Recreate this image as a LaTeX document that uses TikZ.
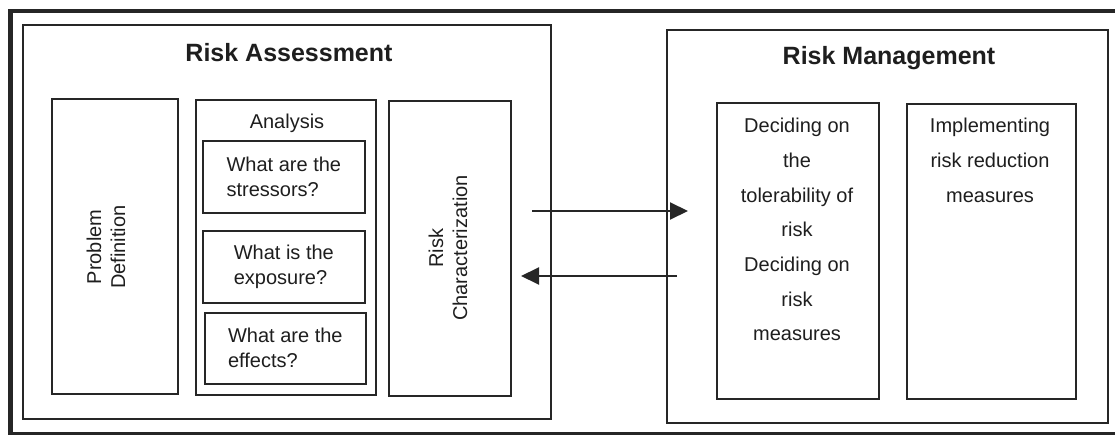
\documentclass[tikz,border=0pt]{standalone}
\usepackage{fontspec}
\setmainfont{Liberation Sans}
\usetikzlibrary{arrows.meta}
\definecolor{linec}{HTML}{262626}
\definecolor{textc}{HTML}{1E1E1E}
\begin{document}
\begin{tikzpicture}[x=1pt,y=-1pt,
  box/.style={draw=linec, line width=1.7pt, inner sep=0pt, anchor=north west},
  title/.style={text=textc, inner sep=0pt, font=\fontsize{25}{30}\selectfont\bfseries},
  body/.style={text=textc, inner sep=0pt, font=\fontsize{20}{25}\selectfont},
  tall/.style={text=textc, inner sep=0pt, align=center, font=\fontsize{20}{34.7}\selectfont},
  vert/.style={text=textc, inner sep=0pt, align=center, rotate=90, font=\fontsize{20}{24}\selectfont},
  flow/.style={draw=linec, line width=2pt, -{Triangle[length=18pt,width=17pt]}}]
\useasboundingbox (0,0) rectangle (1115,435);

% heavy outer frame (its right side runs off the page)
\node[draw=linec, line width=4.5pt, inner sep=0pt, anchor=north west,
      minimum width=1130pt, minimum height=423pt] (frame) at (8,9) {};

% ---- Risk Assessment ----
\node[box, minimum width=528pt, minimum height=394pt] (ra) at (22,24) {};
\node[title] (ratitle) at (289,53) {Risk Assessment};

\node[box, minimum width=126pt, minimum height=295pt] (pd) at (51,98) {};
\node[vert] (pdtext) at (106,247) {Problem\\Definition};

\node[box, minimum width=180pt, minimum height=295pt] (an) at (195,99) {};
\node[body] (antext) at (287,123) {Analysis};

\node[box, minimum width=162pt, minimum height=72pt] (s1) at (202,140) {};
\node[body, align=left] (s1text) at (s1.center) {What are the\\stressors?};
\node[box, minimum width=162pt, minimum height=72pt] (s2) at (202,230) {};
\node[body, align=left] (s2text) at (s2.center) {What is the\\exposure?};
\node[box, minimum width=161pt, minimum height=71pt] (s3) at (204,312) {};
\node[body, align=left] (s3text) at (s3.center) {What are the\\effects?};

\node[box, minimum width=122pt, minimum height=295pt] (rc) at (388,100) {};
\node[vert] (rctext) at (448,248) {Risk\\Characterization};

% ---- Risk Management ----
\node[box, minimum width=441pt, minimum height=393pt] (rm) at (666,29) {};
\node[title] (rmtitle) at (889,58) {Risk Management};

\node[box, minimum width=162pt, minimum height=296pt] (dec) at (716,102) {};
\node[tall, anchor=north] (dectext) at (797,118)
  {Deciding on\\the\\tolerability of\\risk\\Deciding on\\risk\\measures};

\node[box, minimum width=169pt, minimum height=295pt] (imp) at (906,103) {};
\node[tall, anchor=north] (imptext) at (990,118)
  {Implementing\\risk reduction\\measures};

% ---- exchange between the two activities ----
\coordinate (toRMfrom) at (532,211);
\coordinate (toRMto) at (688,211);
\coordinate (toRAfrom) at (677,276);
\coordinate (toRAto) at (521,276);
\draw[flow] (toRMfrom) -- (toRMto);
\draw[flow] (toRAfrom) -- (toRAto);
\end{tikzpicture}
\end{document}
